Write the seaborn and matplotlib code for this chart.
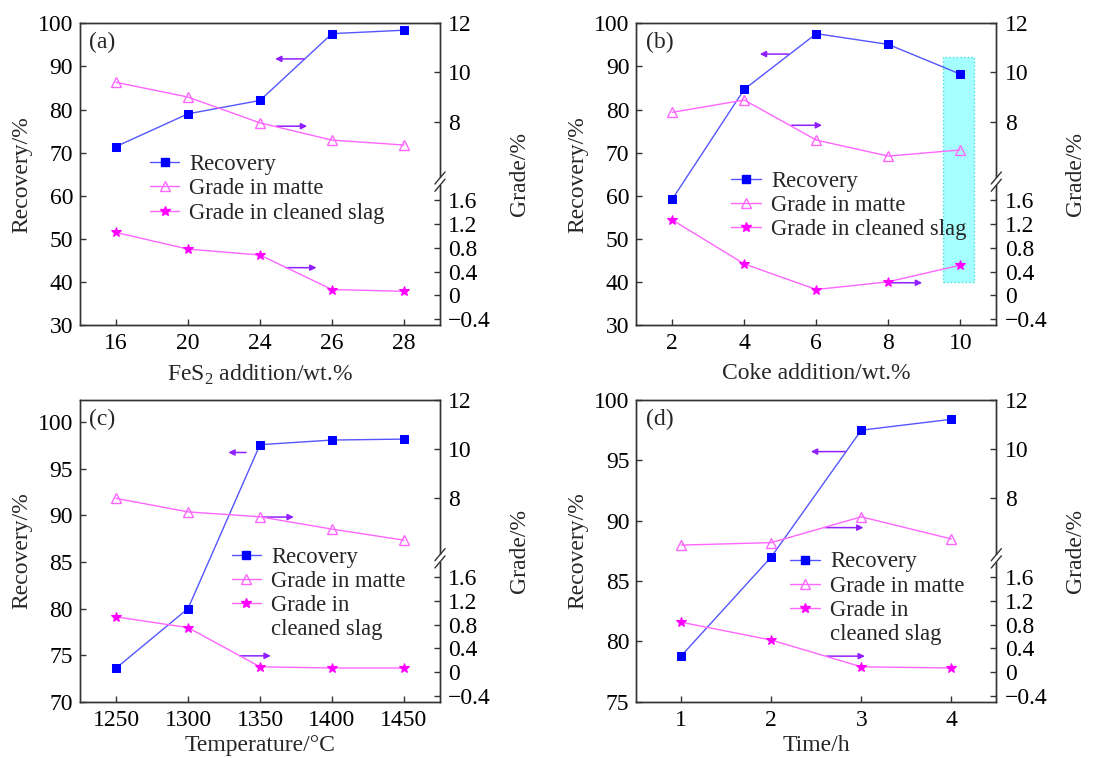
import numpy as np
import matplotlib
matplotlib.use("Agg")
import matplotlib.pyplot as plt
import seaborn as sns
from matplotlib.lines import Line2D
from matplotlib.patches import Rectangle

sns.set_theme(style="ticks")
plt.rcParams.update({
    "font.family": ["Liberation Serif", "DejaVu Serif"],
    "mathtext.fontset": "custom",
    "mathtext.rm": "Liberation Serif",
    "axes.edgecolor": "#333333",
    "axes.linewidth": 1.0,
    "xtick.direction": "in",
    "ytick.direction": "in",
    "xtick.color": "#333333",
    "ytick.color": "#333333",
    "xtick.labelcolor": "black",
    "ytick.labelcolor": "black",
})

# ---------------- data ----------------
a_x = ["16", "20", "24", "26", "28"]
a_rec = [71.4, 79.0, 82.1, 97.6, 98.4]
a_matte = [9.6, 9.0, 7.95, 7.25, 7.05]
a_slag = [1.06, 0.78, 0.68, 0.10, 0.07]

b_x = [2, 4, 6, 8, 10]
b_rec = [59.2, 84.7, 97.6, 95.1, 88.2]
b_matte = [8.38, 8.88, 7.25, 6.6, 6.85]
b_slag = [1.27, 0.53, 0.10, 0.23, 0.51]

c_x = [1250, 1300, 1350, 1400, 1450]
c_rec = [73.6, 80.0, 97.6, 98.1, 98.2]
c_matte = [8.0, 7.45, 7.25, 6.75, 6.3]
c_slag = [0.93, 0.75, 0.09, 0.07, 0.07]

d_x = [1, 2, 3, 4]
d_rec = [78.8, 87.0, 97.5, 98.4]
d_matte = [6.1, 6.2, 7.25, 6.35]
d_slag = [0.84, 0.54, 0.09, 0.07]

grade_ticks = [-0.4, 0, 0.4, 0.8, 1.2, 1.6, 8, 10, 12]
grade_labels = ["\u22120.4", "0", "0.4", "0.8", "1.2", "1.6", "8", "10", "12"]

# ---------------- broken right-axis scale ----------------
LOW_ZERO, LOW_SLOPE = 0.098, 0.197
UP_EIGHT, UP_SLOPE = 0.674, 0.0815
B1, B2 = 1.9, 5.6
F1 = LOW_ZERO + LOW_SLOPE * B1
F2 = UP_EIGHT + UP_SLOPE * (B2 - 8)


def fwd(v):
    v = np.asarray(v, dtype=float)
    low = LOW_ZERO + LOW_SLOPE * v
    up = UP_EIGHT + UP_SLOPE * (v - 8)
    mid = F1 + (v - B1) * (F2 - F1) / (B2 - B1)
    return np.where(v <= B1, low, np.where(v >= B2, up, mid))


def inv(f):
    f = np.asarray(f, dtype=float)
    low = (f - LOW_ZERO) / LOW_SLOPE
    up = 8 + (f - UP_EIGHT) / UP_SLOPE
    mid = B1 + (f - F1) * (B2 - B1) / (F2 - F1)
    return np.where(f <= F1, low, np.where(f >= F2, up, mid))


GRADE_LIM = (-0.497, 12.0)

C_REC_LINE = "#5555ff"
C_REC_MK = "#0000ff"
C_PINK = "#ff66ff"
C_STAR = "#ff00ff"
C_ARROW = "#8f1fff"

FS_TICK = 17
FS_LAB = 17
FS_LEG = 16.3
MS_SQ, MS_TRI, MS_STAR = 5.5, 6.5, 7.5

panels = [
    dict(tag="(a)", x=a_x, rec=a_rec, matte=a_matte, slag=a_slag,
         xlabel="FeS$_\\mathregular{2}$ addition/wt.%", ylim=(30, 100), yticks=[30, 40, 50, 60, 70, 80, 90, 100],
         xlim=(-0.5, 4.5), pos=[80, 23.3, 360, 301.7], xpad=6,
         arrows=[((0.622, 0.882), (0.542, 0.882)), ((0.546, 0.659), (0.631, 0.659)), ((0.572, 0.19), (0.657, 0.19))],
         leg=(0.194, 0.566), split=False),
    dict(tag="(b)", x=b_x, rec=b_rec, matte=b_matte, slag=b_slag,
         xlabel="Coke addition/wt.%", ylim=(30, 100), yticks=[30, 40, 50, 60, 70, 80, 90, 100],
         xlim=(1, 11), xticks=[2, 4, 6, 8, 10], pos=[636.3, 23.3, 360, 301.7], xpad=6,
         arrows=[((0.423, 0.898), (0.343, 0.898)), ((0.431, 0.662), (0.516, 0.662)), ((0.699, 0.14), (0.794, 0.14))],
         leg=(0.264, 0.512), split=False, box=(9.52, 40.05, 0.85, 52.05)),
    dict(tag="(c)", x=c_x, rec=c_rec, matte=c_matte, slag=c_slag,
         xlabel="Temperature/\u00b0C", ylim=(70, 102.4), yticks=[70, 75, 80, 85, 90, 95, 100],
         xlim=(1225, 1475), xticks=c_x, pos=[80, 400, 360, 301.7], xpad=2.5,
         arrows=[((0.461, 0.826), (0.412, 0.826)), ((0.509, 0.612), (0.594, 0.612)), ((0.444, 0.152), (0.53, 0.152))],
         leg=(0.421, 0.514), split=True),
    dict(tag="(d)", x=d_x, rec=d_rec, matte=d_matte, slag=d_slag,
         xlabel="Time/h", ylim=(75, 100), yticks=[75, 80, 85, 90, 95, 100],
         xlim=(0.5, 4.5), xticks=d_x, pos=[636.3, 400, 360, 301.7], xpad=2.5,
         arrows=[((0.58, 0.829), (0.485, 0.829)), ((0.524, 0.577), (0.631, 0.577)), ((0.529, 0.151), (0.635, 0.151))],
         leg=(0.428, 0.498), split=True),
]

W, H = 1096, 758
fig = plt.figure(figsize=(W / 100, H / 100), dpi=100)

for p in panels:
    l, t, w, h = p["pos"]
    ax = fig.add_axes([l / W, 1 - (t + h) / H, w / W, h / H])
    ax2 = ax.twinx()
    ax2.set_yscale("function", functions=(fwd, inv))

    if "box" in p:
        bx, by, bw, bh = p["box"]
        ax.add_patch(Rectangle((bx, by), bw, bh, facecolor="#a6ffff", edgecolor="#40e0e0",
                               linestyle=":", linewidth=1.0, zorder=0))

    sns.lineplot(x=p["x"], y=p["rec"], ax=ax, color=C_REC_LINE, lw=1.0, marker="s",
                 markersize=MS_SQ, markerfacecolor=C_REC_MK, markeredgecolor=C_REC_MK, sort=False)
    sns.lineplot(x=p["x"], y=p["matte"], ax=ax2, color=C_PINK, lw=1.0, marker="^",
                 markersize=MS_TRI, markerfacecolor="none", markeredgecolor=C_PINK, markeredgewidth=1.0, sort=False)
    sns.lineplot(x=p["x"], y=p["slag"], ax=ax2, color=C_PINK, lw=1.0, marker="*",
                 markersize=MS_STAR, markerfacecolor=C_STAR, markeredgecolor=C_STAR, sort=False)

    ax.set_xlim(*p["xlim"])
    if "xticks" in p:
        ax.set_xticks(p["xticks"])
    ax.set_ylim(*p["ylim"])
    ax.set_yticks(p["yticks"])
    ax2.set_ylim(*GRADE_LIM)
    ax2.set_yticks(grade_ticks)
    ax2.set_yticklabels(grade_labels)
    ax2.minorticks_off()

    ax.tick_params(axis="both", which="both", direction="in", length=4.5, width=1.0,
                   labelsize=FS_TICK, pad=5, right=False, top=False)
    ax.tick_params(axis="x", pad=6)
    ax2.tick_params(axis="y", direction="in", length=4.5, width=1.0, labelsize=FS_TICK, pad=6)

    ax.set_xlabel(p["xlabel"], fontsize=FS_LAB, labelpad=p["xpad"])
    ax.set_ylabel("Recovery/%", fontsize=FS_LAB, labelpad=4)
    ax2.set_ylabel("Grade/%", fontsize=FS_LAB, labelpad=13)

    for sp in ax.spines.values():
        sp.set_color("#333333")
    for sp in ax2.spines.values():
        sp.set_color("#333333")

    # axis break marks on right spine
    fb = (F1 + F2) / 2
    yb = (fb - fwd(GRADE_LIM[0])) / (fwd(GRADE_LIM[1]) - fwd(GRADE_LIM[0]))
    gap = 0.012
    ax2.plot([1, 1], [yb - gap, yb + gap], transform=ax2.transAxes, color="white",
             lw=3, clip_on=False, zorder=10, solid_capstyle="butt")
    dx, dy = 0.014, 0.02
    for off in (-gap, gap):
        ax2.plot([1 - dx, 1 + dx], [yb + off - dy, yb + off + dy], transform=ax2.transAxes,
                 color="#333333", lw=1.0, clip_on=False, zorder=11)

    ax.text(0.026, 0.935, p["tag"], transform=ax.transAxes, fontsize=FS_LAB, va="center", ha="left")

    for tail, head in p["arrows"]:
        ax.annotate("", xy=head, xytext=tail, xycoords="axes fraction", textcoords="axes fraction",
                    arrowprops=dict(arrowstyle="-|>", color=C_ARROW, lw=1.1, mutation_scale=9,
                                    shrinkA=0, shrinkB=0), zorder=5)

    h_rec = Line2D([], [], color=C_REC_LINE, lw=1.0, marker="s", markersize=MS_SQ,
                   markerfacecolor=C_REC_MK, markeredgecolor=C_REC_MK)
    h_mat = Line2D([], [], color=C_PINK, lw=1.0, marker="^", markersize=MS_TRI,
                   markerfacecolor="none", markeredgecolor=C_PINK)
    h_slg = Line2D([], [], color=C_PINK, lw=1.0, marker="*", markersize=MS_STAR,
                   markerfacecolor=C_STAR, markeredgecolor=C_STAR)
    if p["split"]:
        handles = [h_rec, h_mat, h_slg, Line2D([], [], alpha=0)]
        labels = ["Recovery", "Grade in matte", "Grade in", "cleaned slag"]
    else:
        handles = [h_rec, h_mat, h_slg]
        labels = ["Recovery", "Grade in matte", "Grade in cleaned slag"]
    leg = ax2.legend(handles, labels, loc="upper left", bbox_to_anchor=p["leg"],
                     bbox_transform=ax2.transAxes, frameon=False, fontsize=FS_LEG,
                     handlelength=1.3, handletextpad=0.45, labelspacing=0.14,
                     borderpad=0, borderaxespad=0, numpoints=1)
    leg.set_zorder(3)

fig.savefig("out.png", dpi=100)
